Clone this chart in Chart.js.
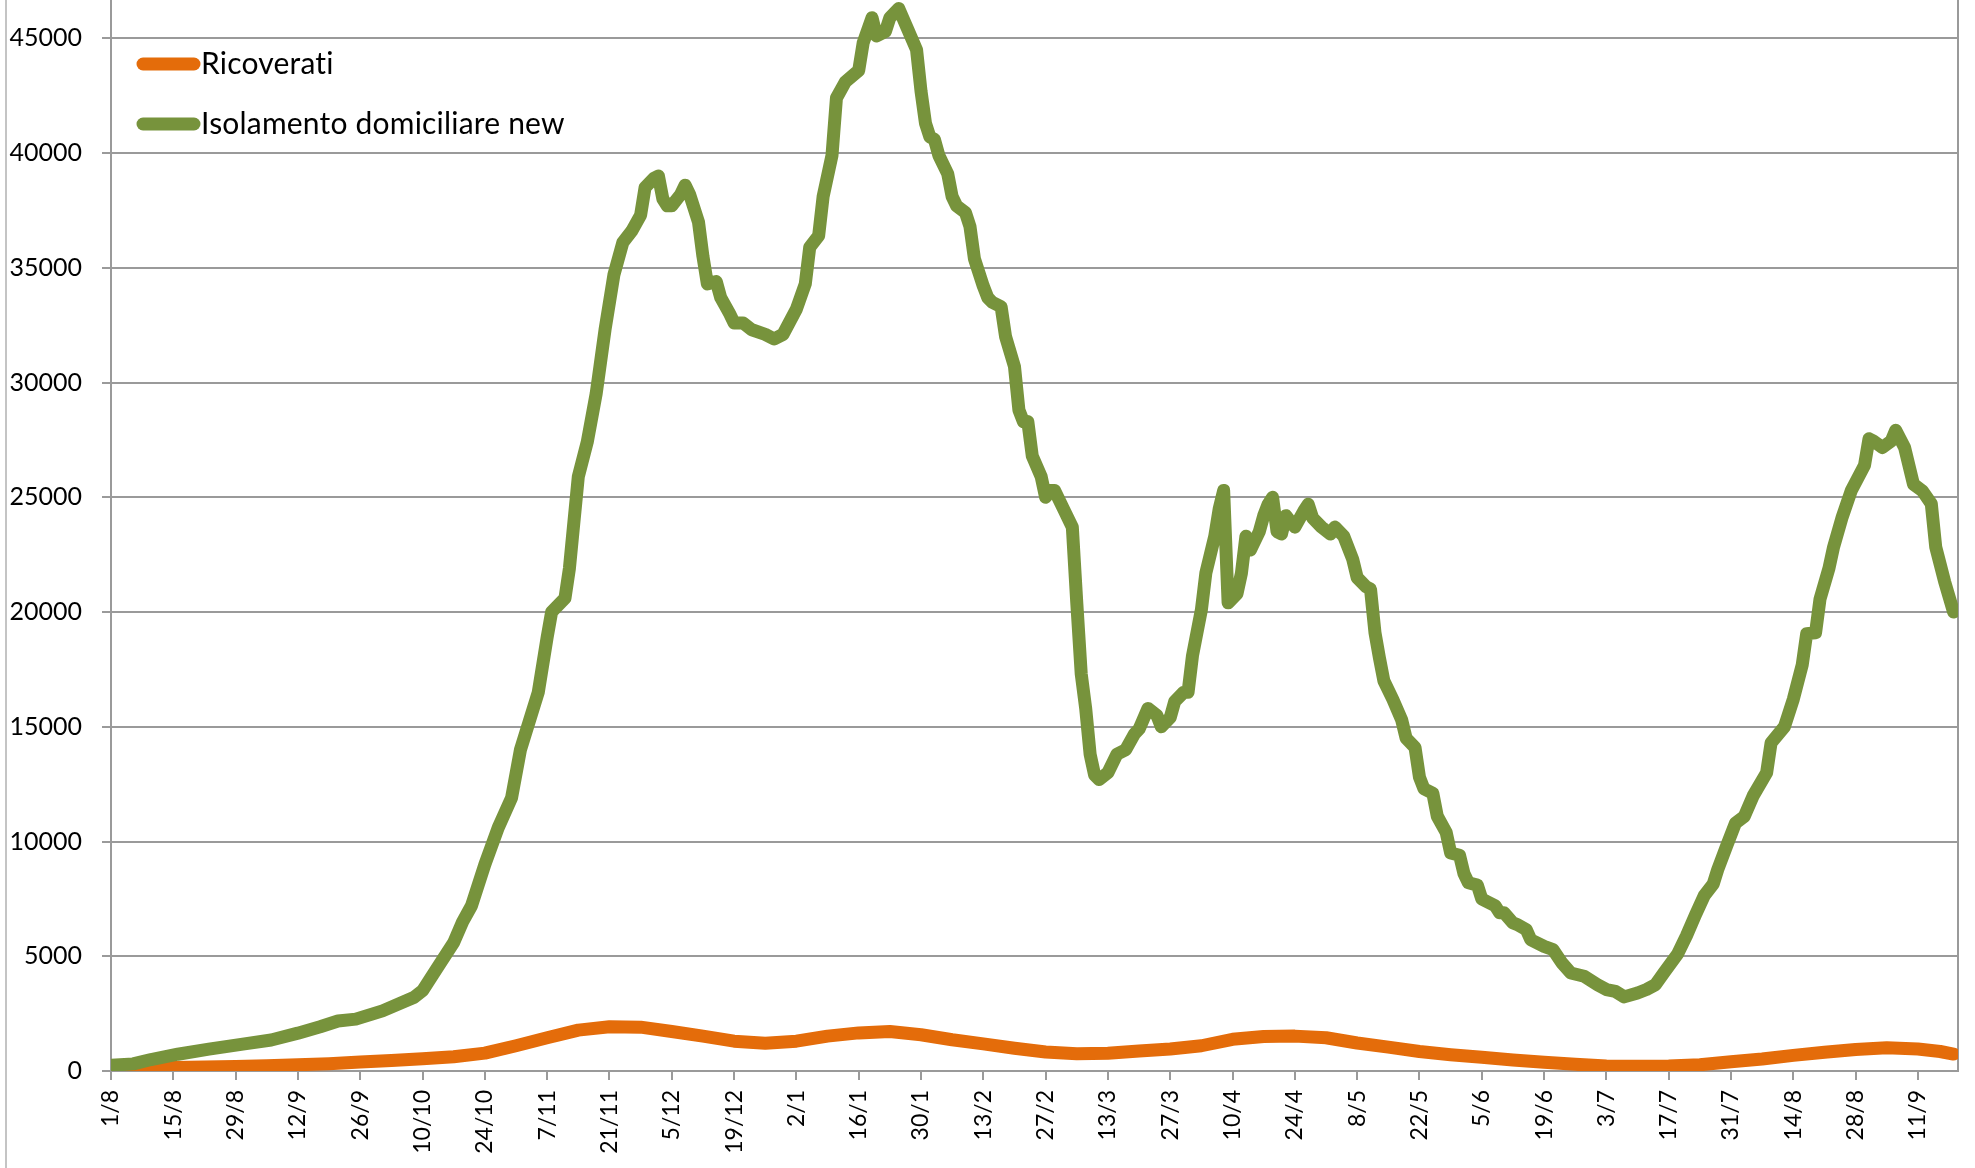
<!DOCTYPE html>
<html>
<head>
<meta charset="utf-8">
<script src="https://cdn.jsdelivr.net/npm/chart.js@4.4.1/dist/chart.umd.min.js"></script>
<style>
  html, body { margin: 0; padding: 0; background: #fff; }
  #wrap { position: relative; width: 1975px; height: 1168px; }
</style>
</head>
<body>
<div id="wrap"><canvas id="grafico"></canvas></div>
<script>
// serie e colori
const seriesNames = ['Ricoverati', 'Isolamento domiciliare new'];
const seriesColors = ['#E46C0A', '#77933C'];

// asse x: giorni dal 1/8/2020, etichette ogni 14 giorni
const tickDays = [0, 14, 28, 42, 56, 70, 84, 98, 112, 126, 140, 154, 168, 182, 196,
    210, 224, 238, 252, 266, 280, 294, 308, 322, 336, 350, 364, 378, 392, 406];
const tickLabels = ['1/8', '15/8', '29/8', '12/9', '26/9', '10/10', '24/10', '7/11', '21/11',
    '5/12', '19/12', '2/1', '16/1', '30/1', '13/2', '27/2', '13/3', '27/3', '10/4', '24/4',
    '8/5', '22/5', '5/6', '19/6', '3/7', '17/7', '31/7', '14/8', '28/8', '11/9'];
const yTicks = [0, 5000, 10000, 15000, 20000, 25000, 30000, 35000, 40000, 45000];

// Ricoverati
const ricoveratiDays = [0, 7, 14, 21, 28, 35, 42, 49, 56, 63, 70, 77, 84, 91, 98, 105, 112,
    119, 126, 133, 140, 147, 154, 161, 168, 175, 182, 189, 196, 203, 210, 217, 224, 231,
    238, 245, 252, 259, 266, 273, 280, 287, 294, 301, 308, 315, 322, 329, 336, 343, 350,
    357, 364, 371, 378, 385, 392, 399, 406, 411, 414];
const ricoveratiValues = [90, 120, 150, 170, 200, 230, 270, 320, 390, 460, 530, 620, 780,
    1100, 1450, 1780, 1930, 1910, 1720, 1520, 1300, 1210, 1300, 1520, 1660, 1720, 1580,
    1360, 1180, 990, 830, 750, 770, 870, 960, 1100, 1380, 1500, 1520, 1450, 1220, 1040,
    850, 710, 600, 480, 380, 290, 220, 210, 220, 270, 400, 520, 680, 820, 940, 1010, 960,
    850, 740];

// Isolamento domiciliare new
const isolamentoDays = [0, 5, 9, 15, 22, 30, 36, 42, 47, 51, 55, 61, 68, 70, 73, 75, 77, 79,
    81, 84, 87, 90, 92, 96, 98, 99, 102, 103, 105, 107, 109, 111, 113, 115, 117, 119, 120,
    122, 123, 124, 125, 126, 128, 129, 130, 132, 133, 134, 136, 137, 139, 140, 142, 144,
    147, 149, 151, 154, 156, 157, 159, 160, 162, 163, 165, 168, 169, 171, 172, 174, 175,
    177, 179, 181, 182, 183, 184, 185, 186, 188, 189, 190, 192, 193, 194, 196, 197, 198,
    200, 201, 203, 204, 205, 206, 207, 209, 210, 211, 212, 214, 216, 217, 218, 219, 220,
    221, 222, 224, 226, 228, 230, 231, 233, 235, 236, 238, 239, 241, 242, 243, 245, 246,
    248, 249, 250, 251, 253, 254, 255, 256, 258, 259, 260, 261, 262, 263, 264, 266, 268,
    269, 270, 272, 274, 275, 277, 279, 280, 282, 283, 284, 285, 286, 288, 290, 291, 293,
    294, 295, 297, 298, 300, 301, 303, 304, 305, 307, 308, 309, 311, 312, 313, 315, 316,
    318, 319, 322, 324, 326, 328, 331, 334, 336, 338, 340, 343, 345, 347, 349, 352, 354,
    356, 358, 360, 361, 363, 365, 367, 369, 372, 373, 376, 378, 380, 381, 383, 384, 386,
    387, 389, 391, 394, 395, 396, 398, 400, 401, 403, 405, 407, 409, 410, 412, 414];
const isolamentoValues = [250, 310, 500, 730, 950, 1180, 1350, 1650, 1930, 2180, 2260, 2620,
    3200, 3500, 4400, 5000, 5600, 6500, 7200, 9000, 10600, 11900, 14000, 16500, 18900,
    20000, 20600, 21900, 25900, 27400, 29500, 32300, 34700, 36100, 36600, 37300, 38500,
    38900, 39000, 38000, 37700, 37700, 38200, 38600, 38200, 37000, 35500, 34300, 34400,
    33700, 33000, 32600, 32600, 32300, 32100, 31900, 32100, 33200, 34300, 35900, 36400,
    38100, 39900, 42400, 43100, 43600, 44800, 45900, 45100, 45300, 45900, 46300, 45400,
    44500, 42700, 41300, 40700, 40600, 39900, 39100, 38100, 37700, 37400, 36800, 35400,
    34200, 33700, 33500, 33300, 32000, 30700, 28800, 28300, 28300, 26800, 25900, 25000,
    25300, 25300, 24500, 23700, 20400, 17300, 15800, 13800, 12900, 12700, 13000, 13800,
    14000, 14700, 14900, 15800, 15500, 15000, 15400, 16100, 16500, 16500, 18100, 20100,
    21700, 23300, 24500, 25300, 20400, 20800, 21700, 23300, 22700, 23500, 24200, 24700,
    25000, 23500, 23400, 24200, 23700, 24400, 24700, 24100, 23700, 23400, 23700, 23300,
    22300, 21500, 21100, 21000, 19100, 18000, 17000, 16200, 15300, 14500, 14100, 12800,
    12300, 12100, 11100, 10400, 9500, 9400, 8600, 8200, 8100, 7500, 7400, 7200, 6900, 6900,
    6450, 6380, 6160, 5720, 5430, 5290, 4710, 4270, 4130, 3760, 3550, 3470, 3230, 3400,
    3550, 3760, 4300, 5100, 5900, 6800, 7650, 8150, 8770, 9800, 10800, 11100, 12000, 13000,
    14300, 15000, 16200, 17700, 19060, 19100, 20570, 21900, 22800, 24150, 25280, 26400,
    27550, 27450, 27170, 27450, 27920, 27170, 25570, 25280, 24720, 22830, 21320, 20000];

const grigio = '#9a9a9a';
const fontFamily = "Lato, 'Open Sans', sans-serif";
const spessore = 13;

function punti(giorni, valori) {
    return giorni.map((g, i) => ({ x: g, y: valori[i] }));
}

// bordo destro dell'area, bordo esterno e legenda dentro il grafico
const bordiLegenda = {
    id: 'bordiLegenda',
    beforeDatasetsDraw(chart) {
        const { ctx, chartArea } = chart;
        ctx.save();
        ctx.strokeStyle = grigio;
        ctx.lineWidth = 2;
        ctx.beginPath();
        ctx.moveTo(chartArea.right, chartArea.top);
        ctx.lineTo(chartArea.right, chartArea.bottom);
        ctx.stroke();
        ctx.strokeStyle = '#b0b0b0';
        ctx.lineWidth = 1.5;
        ctx.beginPath();
        ctx.moveTo(6, 0);
        ctx.lineTo(6, chart.height);
        ctx.stroke();
        ctx.restore();
    },
    afterDraw(chart) {
        const { ctx } = chart;
        const righe = [64, 124];
        ctx.save();
        seriesNames.forEach((nome, i) => {
            ctx.strokeStyle = seriesColors[i];
            ctx.lineWidth = spessore;
            ctx.lineCap = 'round';
            ctx.beginPath();
            ctx.moveTo(143, righe[i]);
            ctx.lineTo(194, righe[i]);
            ctx.stroke();
            ctx.fillStyle = '#000';
            ctx.font = '30px ' + fontFamily;
            ctx.letterSpacing = '0.2px'; // niente legatura "ti"
            ctx.textBaseline = 'alphabetic';
            ctx.fillText(nome, 201, righe[i] + 10);
        });
        ctx.restore();
    }
};

new Chart(document.getElementById('grafico'), {
    type: 'line',
    data: {
        datasets: [
            { label: seriesNames[0], data: punti(ricoveratiDays, ricoveratiValues), borderColor: seriesColors[0], order: 1 },
            { label: seriesNames[1], data: punti(isolamentoDays, isolamentoValues), borderColor: seriesColors[1], order: 0 }
        ]
    },
    options: {
        responsive: true,
        maintainAspectRatio: false,
        animation: false,
        layout: { padding: { left: 0, right: 17, top: 0, bottom: 0 } },
        elements: {
            line: { borderWidth: spessore, tension: 0, borderCapStyle: 'round', borderJoinStyle: 'round', fill: false },
            point: { radius: 0, hoverRadius: 0 }
        },
        plugins: { legend: { display: false }, tooltip: { enabled: false } },
        scales: {
            x: {
                type: 'linear',
                min: 0,
                max: 415,
                afterBuildTicks: axis => { axis.ticks = tickDays.map(v => ({ value: v })); },
                afterFit: axis => { axis.height = 97; axis.paddingLeft = 0; axis.paddingRight = 0; },
                ticks: {
                    autoSkip: false,
                    minRotation: 90,
                    maxRotation: 90,
                    padding: 10,
                    color: '#000',
                    font: { family: fontFamily, size: 23 },
                    callback: v => tickLabels[tickDays.indexOf(v)]
                },
                grid: { drawOnChartArea: false, color: grigio, lineWidth: 2, tickLength: 9 },
                border: { color: grigio, width: 2 }
            },
            y: {
                min: 0,
                max: 46670,
                afterBuildTicks: axis => { axis.ticks = yTicks.map(v => ({ value: v })); },
                afterFit: axis => { axis.width = 111; axis.paddingTop = 0; axis.paddingBottom = 0; },
                ticks: {
                    padding: 20,
                    color: '#000',
                    font: { family: fontFamily, size: 25 },
                    callback: v => String(v)
                },
                grid: { color: grigio, lineWidth: 2, tickLength: 9 },
                border: { color: grigio, width: 2 }
            }
        }
    },
    plugins: [bordiLegenda]
});
</script>
</body>
</html>
